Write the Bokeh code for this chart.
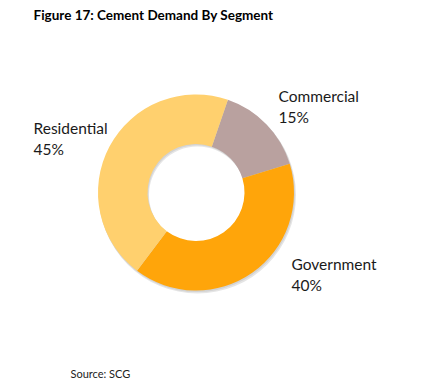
import numpy as np
from bokeh.plotting import figure
from bokeh.models import Range1d
from bokeh.core.properties import value
from bokeh.embed import file_html
from bokeh.resources import INLINE

title_text = "Figure 17: Cement Demand By Segment"
categories = ["Commercial", "Government", "Residential"]
shares = [15, 40, 45]
colors = ["#B9A19F", "#FFA50A", "#FFD06E"]
source_text = "Source: SCG"

W, H = 413, 381
p = figure(width=W, height=H, output_backend="svg", toolbar_location=None,
           x_range=Range1d(0, W), y_range=Range1d(389 - H, 389),
           min_border=0, outline_line_color=None)
p.axis.visible = False
p.grid.visible = False
p.background_fill_color = "white"

def Y(img_y):
    return 389 - img_y

cx, cy = 195.5, Y(192)
r_out, r_in = 98, 48.5

vals = np.array(shares, dtype=float)
frac = vals / vals.sum()
start0 = np.deg2rad(90 - 19)
ends_cum = np.cumsum(frac) * 2 * np.pi
starts = start0 - np.concatenate([[0], ends_cum[:-1]])
ends = start0 - ends_cum

# soft shadow
p.annular_wedge(x=cx + 1.5, y=cy - 2.5, inner_radius=r_in, outer_radius=r_out + 0.5,
                start_angle=0, end_angle=2 * np.pi, color="#000000", alpha=0.10,
                line_color=None)
p.annular_wedge(x=cx + 0.8, y=cy - 1.3, inner_radius=r_in, outer_radius=r_out + 0.3,
                start_angle=0, end_angle=2 * np.pi, color="#000000", alpha=0.08,
                line_color=None)

p.annular_wedge(x=cx, y=cy, inner_radius=r_in, outer_radius=r_out,
                start_angle=list(starts), end_angle=list(ends), direction="clock",
                fill_color=colors, line_color=None)

font = value("Lato")
p.text(x=[33], y=[Y(6)], text=[title_text], text_font=font, text_font_style="bold",
       text_font_size="13.5px", text_baseline="top", text_color="#000000")

label_pos_x = [278, 291, 33]
label_pos_y = [Y(86), Y(254), Y(118)]
labels = [f"{c}\n{int(s)}%" for c, s in zip(categories, shares)]
p.text(x=label_pos_x, y=label_pos_y, text=labels, text_font=font,
       text_font_size="15.5px", text_baseline="top", text_color="#1a1a1a",
       text_line_height=1.22)

p.text(x=[70], y=[Y(366)], text=[source_text], text_font=font,
       text_font_size="11px", text_baseline="top", text_color="#222222")

open("out.html", "w").write(file_html(p, INLINE))
